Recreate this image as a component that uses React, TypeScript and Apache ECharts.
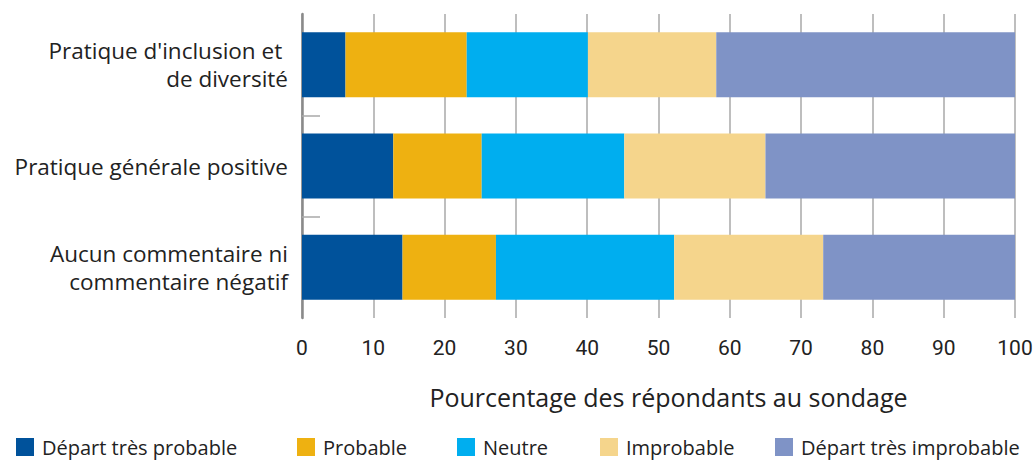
import React, { useEffect, useRef } from "react";
import * as echarts from "echarts";

const categories = [
  "Pratique d'inclusion et \nde diversité",
  "Pratique générale positive",
  "Aucun commentaire ni\ncommentaire négatif",
];
const seriesNames = [
  "Départ très probable",
  "Probable",
  "Neutre",
  "Improbable",
  "Départ très improbable",
];
const tresProbable = [6.1, 12.8, 14.1];
const probable = [17, 12.4, 13.1];
const neutre = [17, 20, 25];
const improbable = [18, 19.8, 20.9];
const tresImprobable = [41.9, 35, 26.9];
const xTicks = [0, 10, 20, 30, 40, 50, 60, 70, 80, 90, 100];
const bandBoundaries = [1, 2];

const colors = ["#00529B", "#EEB111", "#00AEEF", "#F5D58C", "#7F93C6"];
const legendLefts = [16, 297, 457, 600, 775];
const FONT = "Open Sans";

export default function App() {
  const ref = useRef<HTMLDivElement>(null);
  useEffect(() => {
    document.body.style.margin = "0";
    const chart = echarts.init(ref.current!, null, { renderer: "svg" });
    const values = [tresProbable, probable, neutre, improbable, tresImprobable];
    chart.setOption({
      animation: false,
      textStyle: { fontFamily: FONT },
      grid: { left: 302, right: 21, top: 14, bottom: 143, containLabel: false },
      legend: seriesNames.map((n, i) => ({
        data: [n],
        left: legendLefts[i],
        top: 437,
        itemWidth: 18,
        itemHeight: 18,
        icon: "rect",
        itemGap: 0,
        padding: 0,
        textStyle: { fontSize: 20, lineHeight: 18, color: "#222", fontFamily: FONT, padding: [0, 0, 0, 3] },
      })),
      xAxis: {
        type: "value",
        min: 0,
        max: 100,
        interval: 10,
        axisLine: { show: false },
        axisTick: { show: false },
        splitLine: { show: true, lineStyle: { color: "#a8a8a8", width: 1.5 } },
        axisLabel: {
          fontSize: 21,
          color: "#222",
          margin: 19,
          fontFamily: "Roboto",
          formatter: (v: number) => (xTicks.includes(v) ? String(v) : ""),
        },
        name: "Pourcentage des répondants au sondage",
        nameLocation: "middle",
        nameGap: 66,
        nameTextStyle: { fontSize: 25, color: "#222", padding: [0, 0, 0, 20] },
      },
      yAxis: [
        {
          type: "category",
          data: categories,
          inverse: true,
          axisLine: { show: true, lineStyle: { color: "#8a8a8a", width: 2.5 } },
          axisTick: { show: false },
          axisLabel: { fontSize: 22.5, color: "#222", margin: 14, lineHeight: 28, align: "right" },
        },
        {
          type: "value",
          min: 0,
          max: 3,
          inverse: true,
          position: "left",
          offset: 0,
          axisLine: { show: false },
          splitLine: { show: false },
          axisLabel: { show: false },
          axisTick: {
            show: true,
            inside: true,
            length: 18,
            customValues: bandBoundaries,
            lineStyle: { color: "#a8a8a8", width: 1.5 },
          },
        },
      ],
      series: seriesNames.map((n, i) => ({
        name: n,
        type: "bar",
        stack: "total",
        data: values[i],
        barWidth: 65,
        itemStyle: { color: colors[i] },
      })),
    });
    return () => chart.dispose();
  }, []);
  return <div ref={ref} style={{ width: 1036, height: 461 }} />;
}
